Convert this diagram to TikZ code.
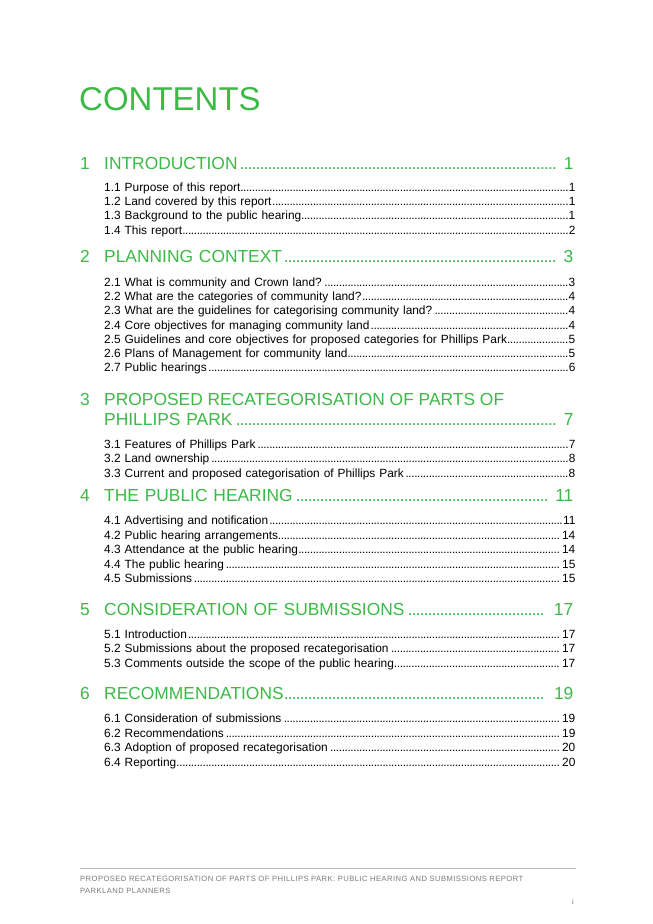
\documentclass[tikz,border=0pt]{standalone}
\usepackage{fontspec}
\setmainfont{Liberation Sans}
\definecolor{grn}{RGB}{60,185,70}
\definecolor{ftgray}{RGB}{120,120,120}
\newcommand{\gdots}{\leaders\hbox to 4.0pt{\hss.\hss}\hfill}
\newcommand{\sdots}{\leaders\hbox to 2.9pt{\hss.\hss}\hfill}
\tikzset{
 sec/.style={anchor=base west,inner sep=0pt,text=grn,font=\fontsize{17.4}{20}\selectfont,text width=469pt},
 secnum/.style={anchor=base west,inner sep=0pt,text=grn,font=\fontsize{17.4}{20}\selectfont},
 sub/.style={anchor=base west,inner sep=0pt,font=\fontsize{11.9}{13}\selectfont,text width=471pt},
 foot/.style={anchor=base west,inner sep=0pt,text=ftgray,font=\fontsize{7.6}{9}\selectfont}
}
\newcommand{\secline}[4]{\node[secnum] (n#1) at (80,#3) {#1};\node[sec] (s#1) at (104,#3) {#2\gdots\ #4};}
\newcommand{\subline}[4]{\node[sub] (t#1) at (104,#3) {#2\sdots#4};}
\begin{document}
\begin{tikzpicture}[x=1pt,y=-1pt]
\useasboundingbox (0,0) rectangle (653,924);
\node[anchor=base west,inner sep=0pt,text=grn,font=\fontsize{33}{36}\selectfont] (title) at (79,110) {CONTENTS};
\secline{1}{INTRODUCTION}{169}{1}
\subline{11}{1.1 Purpose of this report}{191}{1}
\subline{12}{1.2 Land covered by this report}{205}{1}
\subline{13}{1.3 Background to the public hearing}{219}{1}
\subline{14}{1.4 This report}{234}{2}
\secline{2}{PLANNING CONTEXT}{262.5}{3}
\subline{21}{2.1 What is community and Crown land?}{286}{3}
\subline{22}{2.2 What are the categories of community land?}{300}{4}
\subline{23}{2.3 What are the guidelines for categorising community land?}{314}{4}
\subline{24}{2.4 Core objectives for managing community land}{329}{4}
\subline{25}{2.5 Guidelines and core objectives for proposed categories for  Phillips Park}{343}{5}
\subline{26}{2.6 Plans of Management for community land}{357}{5}
\subline{27}{2.7 Public hearings}{371}{6}
\node[secnum] (n3) at (80,405) {3};
\node[secnum] (s3a) at (104,405) {PROPOSED RECATEGORISATION OF PARTS OF};
\node[sec] (s3) at (104,425) {PHILLIPS PARK\gdots\ 7};
\subline{31}{3.1 Features of Phillips Park}{448}{7}
\subline{32}{3.2 Land ownership}{462}{8}
\subline{33}{3.3 Current and proposed categorisation of Phillips Park}{477}{8}
\secline{4}{THE PUBLIC HEARING}{501.5}{11}
\subline{41}{4.1 Advertising and notification}{524}{11}
\subline{42}{4.2 Public hearing arrangements}{539}{14}
\subline{43}{4.3 Attendance at the public hearing}{553}{14}
\subline{44}{4.4 The public hearing}{568}{15}
\subline{45}{4.5 Submissions}{582}{15}
\secline{5}{CONSIDERATION OF SUBMISSIONS}{615}{17}
\subline{51}{5.1 Introduction}{638}{17}
\subline{52}{5.2 Submissions about the proposed recategorisation}{652}{17}
\subline{53}{5.3 Comments outside the scope of the public hearing}{667}{17}
\secline{6}{RECOMMENDATIONS}{699}{19}
\subline{61}{6.1 Consideration of submissions}{722}{19}
\subline{62}{6.2 Recommendations}{737}{19}
\subline{63}{6.3 Adoption of proposed recategorisation}{751}{20}
\subline{64}{6.4 Reporting}{766}{20}
\draw[ftgray!50,line width=0.6pt] (80,868) coordinate (fl) -- (576,868) coordinate (fr);
\node[foot] (f1) at (80,881) {\addfontfeature{LetterSpace=6}PROPOSED RECATEGORISATION OF PARTS OF PHILLIPS PARK: PUBLIC HEARING AND SUBMISSIONS REPORT};
\node[foot] (f2) at (80,893) {\addfontfeature{LetterSpace=6}PARKLAND PLANNERS};
\node[foot] (pg) at (572,904) {i};
\end{tikzpicture}
\end{document}
